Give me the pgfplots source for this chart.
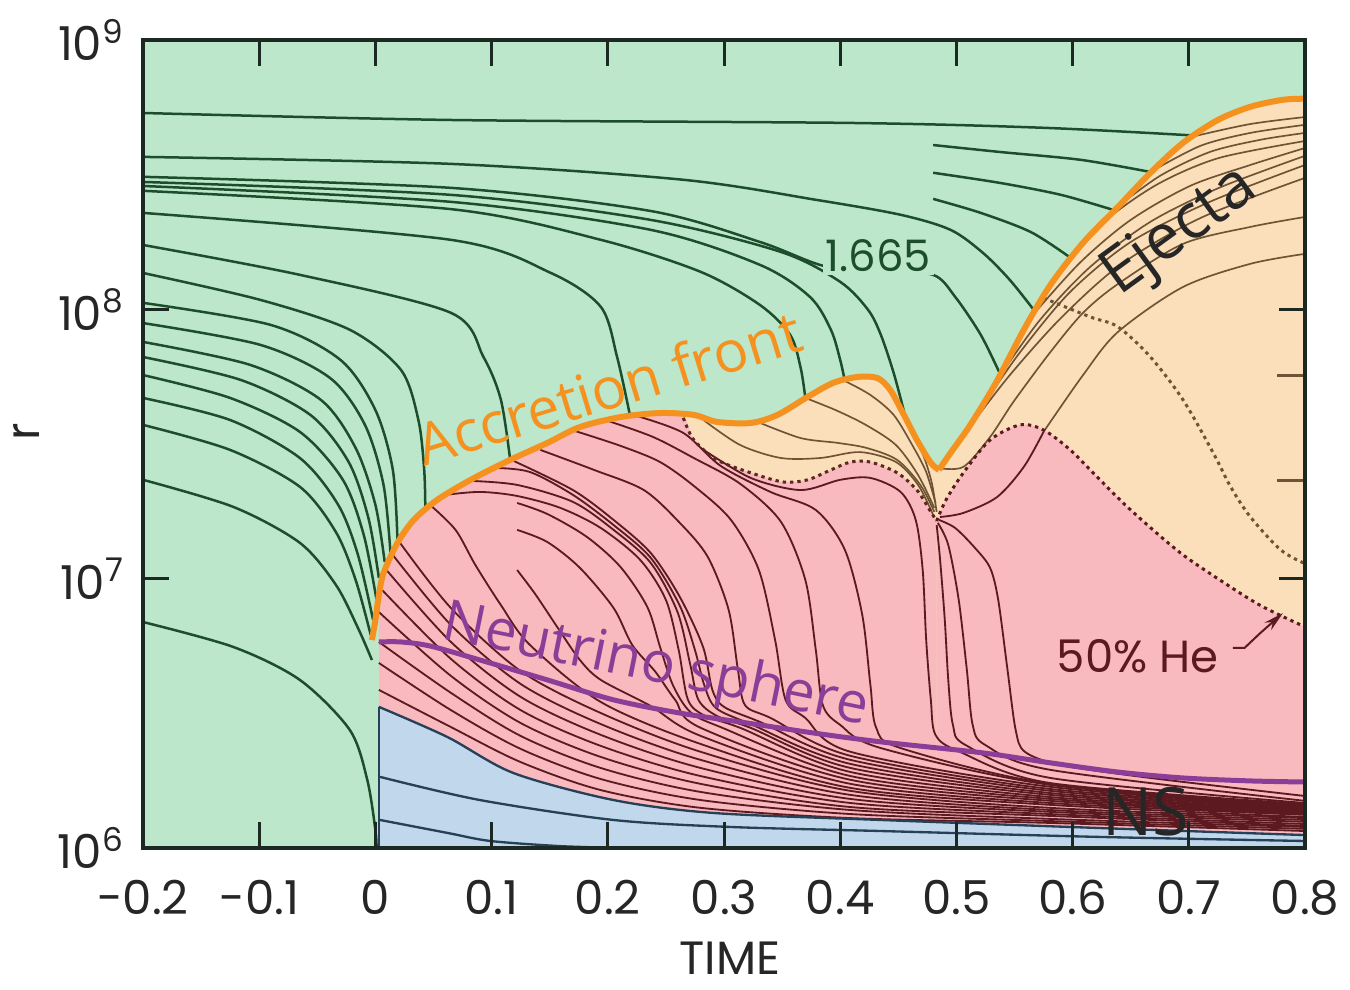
\documentclass[border=0pt]{standalone}
\usepackage{fontspec}
\usepackage{pgfplots}
\pgfplotsset{compat=1.18}
\usetikzlibrary{arrows.meta}
\newfontfamily\labfont{Open Sans}
\newfontfamily\tickfont{Poppins}

\definecolor{bggreen}{RGB}{188,231,203}
\definecolor{pinkfill}{RGB}{248,186,190}
\definecolor{peachfill}{RGB}{251,222,186}
\definecolor{bluefill}{RGB}{193,216,236}
\definecolor{greenline}{RGB}{28,78,44}
\definecolor{redline}{RGB}{92,26,32}
\definecolor{brownline}{RGB}{110,84,52}
\definecolor{navyline}{RGB}{38,64,88}
\definecolor{frontcol}{RGB}{245,145,30}
\definecolor{nusphere}{RGB}{138,62,152}
\definecolor{framecol}{RGB}{28,40,34}

% shell trajectories: y is log10 of the radius
\pgfplotsset{
  gl/.style={greenline, line width=0.75pt, smooth, no marks},
  rl/.style={redline, line width=0.55pt, smooth, no marks},
  bl/.style={brownline, line width=0.5pt, smooth, no marks},
  nl/.style={navyline, line width=0.7pt, smooth, no marks},
  dl/.style={line width=0.9pt, dash pattern=on 1pt off 1.2pt, smooth, no marks},
}

\begin{document}
\begin{tikzpicture}
\begin{axis}[
  name=ax,
  scale only axis, width=348.6pt, height=242.4pt,
  xmin=-0.2, xmax=0.8, ymin=6, ymax=9,
  axis on top,
  axis background/.style={fill=bggreen},
  xtick={-0.2,-0.1,0,0.1,0.2,0.3,0.4,0.5,0.6,0.7,0.8},
  xticklabels={-0.2,-0.1,0,0.1,0.2,0.3,0.4,0.5,0.6,0.7,0.8},
  ytick={6,7,8,9},
  yticklabels={10\textsuperscript{6},10\textsuperscript{7},10\textsuperscript{8},10\textsuperscript{9}},
  tick align=inside, major tick length=7.8pt,
  tick style={framecol, line width=0.9pt},
  axis line style={framecol, line width=1.2pt},
  ticklabel style={font=\tickfont\fontsize{14}{14}\selectfont, text=black!85},
  xticklabel style={anchor=base, yshift=-20pt},
  yticklabel style={anchor=east, xshift=-2pt},
  xlabel={TIME}, ylabel={r},
  every axis x label/.style={at={(axis description cs:0.505,-0.137)}, anchor=center,
    font=\tickfont\fontsize{14}{14}\selectfont, text=black!85},
  every axis y label/.style={at={(axis description cs:-0.1,0.515)}, anchor=center, rotate=90,
    font=\tickfont\fontsize{14}{14}\selectfont, text=black!85},
]

% ---- regions ----
\addplot[draw=none, fill=peachfill, smooth] coordinates {
(0.003,6.939) (0.007,7.021) (0.019,7.133) (0.033,7.218) (0.053,7.292) (0.082,7.367) (0.116,7.441) (0.148,7.504) (0.176,7.563) (0.211,7.600) (0.245,7.615) (0.274,7.608) (0.294,7.582) (0.323,7.578) (0.346,7.608) (0.372,7.675) (0.394,7.727) (0.415,7.749) (0.432,7.745) (0.443,7.701) (0.454,7.615) (0.466,7.515) (0.478,7.430) (0.485,7.404)} \closedcycle;
\addplot[draw=none, fill=peachfill, smooth] coordinates {
(0.485,7.404) (0.495,7.467) (0.512,7.571) (0.534,7.727) (0.558,7.924) (0.581,8.091) (0.609,8.247) (0.639,8.380) (0.667,8.507) (0.695,8.618) (0.725,8.703) (0.753,8.752) (0.781,8.778) (0.800,8.782)} \closedcycle;

\addplot[draw=none, fill=pinkfill, smooth] coordinates {
(0.003,6.939) (0.007,7.021) (0.019,7.133) (0.033,7.218) (0.053,7.292) (0.082,7.367) (0.116,7.441) (0.148,7.504) (0.176,7.563) (0.211,7.600) (0.245,7.615) (0.265,7.605) (0.274,7.515) (0.294,7.441) (0.323,7.393) (0.351,7.359) (0.372,7.367) (0.392,7.404) (0.409,7.433) (0.426,7.433) (0.449,7.393) (0.466,7.329) (0.478,7.248) (0.483,7.214)} \closedcycle;
\addplot[draw=none, fill=pinkfill, smooth] coordinates {
(0.483,7.214) (0.491,7.292) (0.506,7.393) (0.529,7.515) (0.555,7.571) (0.575,7.552) (0.598,7.478) (0.621,7.378) (0.650,7.255) (0.693,7.095) (0.736,6.969) (0.764,6.895) (0.800,6.821)} \closedcycle;

\addplot[draw=none, fill=bluefill, smooth] coordinates {
(0.003,6.524) (0.062,6.412) (0.119,6.278) (0.205,6.178) (0.291,6.130) (0.435,6.104) (0.624,6.074) (0.800,6.048)} \closedcycle;

% ---- infalling shells (green) ----
\addplot[gl] coordinates {(-0.200,8.729) (0.065,8.703) (0.409,8.692) (0.575,8.674) (0.706,8.645)};
\addplot[gl] coordinates {(0.480,8.610) (0.538,8.584) (0.607,8.555) (0.667,8.510)};
\addplot[gl] coordinates {(0.480,8.507) (0.538,8.469) (0.590,8.425) (0.635,8.369)};
\addplot[gl] coordinates {(0.480,8.410) (0.521,8.358) (0.564,8.287) (0.597,8.195)};
\addplot[gl] coordinates {(-0.200,8.566) (0.065,8.540) (0.265,8.481) (0.380,8.406) (0.452,8.351) (0.495,8.295) (0.523,8.209) (0.546,8.109) (0.568,7.990)};
\addplot[gl] coordinates {(-0.200,8.492) (0.065,8.451) (0.237,8.365) (0.331,8.250) (0.386,8.161) (0.435,8.143) (0.480,8.128) (0.499,8.046) (0.521,7.905) (0.538,7.756)};
\addplot[gl] coordinates {(-0.200,8.473) (0.065,8.425) (0.237,8.332) (0.349,8.213) (0.400,8.102) (0.424,7.998) (0.435,7.905) (0.446,7.764) (0.455,7.619)};
\addplot[gl] coordinates {(-0.200,8.458) (0.065,8.399) (0.237,8.295) (0.331,8.165) (0.374,8.046) (0.392,7.924) (0.400,7.812) (0.404,7.734)};
\addplot[gl] coordinates {(-0.200,8.440) (0.065,8.372) (0.194,8.258) (0.280,8.139) (0.331,8.016) (0.357,7.905) (0.366,7.782) (0.370,7.671)};
\addplot[gl] coordinates {(-0.200,8.358) (0.065,8.258) (0.151,8.135) (0.194,8.009) (0.208,7.823) (0.219,7.608)};
\addplot[gl] coordinates {(-0.200,8.239) (-0.065,8.128) (0.065,7.987) (0.093,7.823) (0.108,7.664) (0.116,7.441)};
\addplot[gl] coordinates {(-0.200,8.135) (-0.099,8.035) (-0.022,7.924) (0.022,7.775) (0.037,7.589) (0.042,7.404) (0.043,7.248)};
\addplot[gl] coordinates {(-0.200,8.024) (-0.090,7.942) (-0.030,7.812) (0.000,7.626) (0.015,7.404) (0.019,7.144)};
\addplot[gl] coordinates {(-0.200,7.949) (-0.099,7.868) (-0.039,7.745) (-0.009,7.571) (0.007,7.348) (0.013,7.095)};
\addplot[gl] coordinates {(-0.200,7.879) (-0.108,7.794) (-0.047,7.664) (-0.017,7.485) (0.000,7.274) (0.008,7.062)};
\addplot[gl] coordinates {(-0.200,7.823) (-0.116,7.738) (-0.056,7.608) (-0.023,7.433) (-0.006,7.225) (0.003,7.003)};
\addplot[gl] coordinates {(-0.200,7.756) (-0.125,7.671) (-0.065,7.545) (-0.028,7.367) (-0.010,7.162) (0.001,6.921)};
\addplot[gl] coordinates {(-0.200,7.671) (-0.125,7.589) (-0.065,7.448) (-0.032,7.274) (-0.015,7.088) (-0.002,6.847)};
\addplot[gl] coordinates {(-0.200,7.571) (-0.125,7.478) (-0.065,7.341) (-0.034,7.173) (-0.017,6.995) (-0.004,6.791)};
\addplot[gl] coordinates {(-0.200,7.367) (-0.122,7.266) (-0.065,7.133) (-0.034,6.977) (-0.015,6.817) (-0.003,6.698)};
\addplot[gl] coordinates {(-0.200,6.839) (-0.122,6.746) (-0.065,6.624) (-0.022,6.438) (-0.007,6.253) (0.000,6.067) (0.001,6.000)};

% ---- ejecta and accreted shells (brown) ----
\addplot[bl] coordinates {(0.706,8.644) (0.753,8.688) (0.800,8.714)};
\addplot[bl] coordinates {(0.667,8.510) (0.710,8.607) (0.753,8.655) (0.800,8.685)};
\addplot[bl] coordinates {(0.635,8.369) (0.675,8.495) (0.718,8.584) (0.761,8.629) (0.800,8.655)};
\addplot[bl] coordinates {(0.597,8.195) (0.632,8.343) (0.675,8.469) (0.726,8.562) (0.800,8.625)};
\addplot[bl] coordinates {(0.568,7.990) (0.607,8.176) (0.650,8.332) (0.701,8.458) (0.753,8.536) (0.800,8.599)};
\addplot[bl] coordinates {(0.538,7.756) (0.572,7.961) (0.615,8.157) (0.667,8.325) (0.726,8.451) (0.800,8.570)};
\addplot[bl] coordinates {(0.525,7.656) (0.555,7.842) (0.598,8.065) (0.650,8.250) (0.718,8.399) (0.800,8.536)};
\addplot[bl] coordinates {(0.516,7.589) (0.546,7.756) (0.590,7.968) (0.641,8.165) (0.710,8.339) (0.800,8.488)};
\addplot[bl] coordinates {(0.484,7.411) (0.506,7.415) (0.529,7.526) (0.549,7.656) (0.581,7.842) (0.609,7.987) (0.639,8.094) (0.695,8.243) (0.753,8.306) (0.800,8.343)};
\addplot[bl] coordinates {(0.575,7.545) (0.609,7.756) (0.639,7.916) (0.695,8.083) (0.753,8.169) (0.800,8.206)};
\addplot[bl] coordinates {(0.282,7.590) (0.314,7.496) (0.349,7.448) (0.383,7.448) (0.417,7.470) (0.448,7.433) (0.467,7.348) (0.480,7.237)};
\addplot[bl] coordinates {(0.329,7.582) (0.366,7.522) (0.398,7.504) (0.423,7.485) (0.449,7.441) (0.469,7.348) (0.481,7.248)};
\addplot[bl] coordinates {(0.370,7.671) (0.396,7.626) (0.422,7.571) (0.448,7.496) (0.467,7.385) (0.481,7.263)};
\addplot[bl] coordinates {(0.404,7.734) (0.426,7.682) (0.446,7.608) (0.462,7.496) (0.474,7.396) (0.482,7.281)};
\addplot[bl] coordinates {(0.455,7.619) (0.465,7.522) (0.473,7.441) (0.479,7.352) (0.483,7.248)};

% ---- shells behind the accretion front (dark red) ----
\addplot[rl] coordinates {(0.003,6.587) (0.065,6.449) (0.125,6.319) (0.194,6.215) (0.280,6.149) (0.409,6.111) (0.581,6.093) (0.800,6.063)};
\addplot[rl] coordinates {(0.003,6.687) (0.065,6.512) (0.125,6.368) (0.194,6.256) (0.280,6.178) (0.409,6.126) (0.581,6.100) (0.800,6.071)};
\addplot[rl] coordinates {(0.003,6.765) (0.065,6.576) (0.125,6.416) (0.194,6.297) (0.280,6.208) (0.409,6.141) (0.581,6.108) (0.800,6.078)};
\addplot[rl] coordinates {(0.003,6.876) (0.065,6.639) (0.125,6.464) (0.194,6.338) (0.280,6.238) (0.409,6.152) (0.581,6.119) (0.800,6.082)};
\addplot[rl] coordinates {(0.004,6.966) (0.065,6.702) (0.125,6.512) (0.194,6.379) (0.280,6.267) (0.409,6.167) (0.581,6.126) (0.800,6.089)};
\addplot[rl] coordinates {(0.008,7.040) (0.065,6.765) (0.125,6.561) (0.194,6.420) (0.280,6.297) (0.409,6.182) (0.581,6.134) (0.800,6.097)};
\addplot[rl] coordinates {(0.013,7.099) (0.065,6.828) (0.125,6.609) (0.194,6.460) (0.280,6.327) (0.409,6.197) (0.581,6.141) (0.800,6.104)};
\addplot[rl] coordinates {(0.020,7.140) (0.065,6.891) (0.125,6.657) (0.194,6.501) (0.280,6.357) (0.409,6.212) (0.581,6.149) (0.800,6.111)};
\addplot[rl] coordinates {(0.047,7.274) (0.069,7.181) (0.086,7.051) (0.108,6.902) (0.133,6.754) (0.194,6.542) (0.280,6.386) (0.409,6.223) (0.581,6.160) (0.800,6.115)};
\addplot[rl] coordinates {(0.122,7.032) (0.138,6.940) (0.157,6.817) (0.176,6.698) (0.194,6.624) (0.237,6.527) (0.280,6.416) (0.409,6.238) (0.581,6.167) (0.800,6.123)};
\addplot[rl] coordinates {(0.122,7.181) (0.148,7.136) (0.176,7.040) (0.205,6.891) (0.221,6.754) (0.241,6.654) (0.258,6.550) (0.280,6.446) (0.409,6.253) (0.581,6.175) (0.800,6.126)};
\addplot[rl] coordinates {(0.122,7.281) (0.148,7.240) (0.182,7.155) (0.211,7.043) (0.234,6.895) (0.245,6.746) (0.256,6.605) (0.271,6.505) (0.297,6.449) (0.409,6.267) (0.581,6.182) (0.800,6.130)};
\addplot[rl] coordinates {(0.060,7.311) (0.090,7.322) (0.122,7.307) (0.159,7.263) (0.194,7.188) (0.228,7.069) (0.250,6.921) (0.261,6.735) (0.269,6.550) (0.284,6.490) (0.314,6.446) (0.409,6.282) (0.581,6.189) (0.800,6.134)};
\addplot[rl] coordinates {(0.082,7.363) (0.122,7.348) (0.170,7.285) (0.205,7.181) (0.237,7.058) (0.260,6.876) (0.271,6.680) (0.278,6.550) (0.294,6.490) (0.323,6.446) (0.409,6.297) (0.581,6.197) (0.800,6.137)};
\addplot[rl] coordinates {(0.103,7.411) (0.133,7.396) (0.170,7.311) (0.205,7.199) (0.237,7.077) (0.262,6.899) (0.275,6.735) (0.283,6.605) (0.293,6.520) (0.323,6.460) (0.409,6.312) (0.581,6.204) (0.800,6.141)};
\addplot[rl] coordinates {(0.119,7.437) (0.170,7.329) (0.205,7.218) (0.237,7.095) (0.262,6.932) (0.282,6.746) (0.290,6.587) (0.300,6.524) (0.331,6.468) (0.409,6.327) (0.581,6.212) (0.800,6.145)};
\addplot[rl] coordinates {(0.142,7.478) (0.188,7.404) (0.231,7.329) (0.262,7.207) (0.286,7.081) (0.304,6.884) (0.312,6.661) (0.318,6.531) (0.340,6.483) (0.409,6.342) (0.581,6.219) (0.800,6.149)};
\addplot[rl] coordinates {(0.172,7.548) (0.211,7.493) (0.245,7.433) (0.275,7.341) (0.306,7.218) (0.330,7.032) (0.344,6.772) (0.353,6.550) (0.370,6.483) (0.409,6.357) (0.581,6.227) (0.800,6.152)};
\addplot[rl] coordinates {(0.200,7.586) (0.239,7.526) (0.274,7.448) (0.314,7.352) (0.349,7.211) (0.370,6.995) (0.379,6.735) (0.385,6.531) (0.400,6.457) (0.435,6.371) (0.581,6.234) (0.800,6.156)};
\addplot[rl] coordinates {(0.225,7.604) (0.265,7.541) (0.297,7.419) (0.340,7.322) (0.379,7.255) (0.404,7.107) (0.419,6.865) (0.426,6.605) (0.431,6.446) (0.452,6.371) (0.581,6.238) (0.800,6.160)};
\addplot[rl] coordinates {(0.280,7.485) (0.323,7.374) (0.366,7.329) (0.400,7.367) (0.426,7.374) (0.452,7.322) (0.465,7.218) (0.471,7.032) (0.474,6.772) (0.478,6.550) (0.482,6.420) (0.503,6.357) (0.581,6.241) (0.800,6.163)};
\addplot[rl] coordinates {(0.483,7.199) (0.486,7.069) (0.490,6.847) (0.493,6.624) (0.497,6.457) (0.508,6.382) (0.581,6.260) (0.800,6.167)};
\addplot[rl] coordinates {(0.484,7.207) (0.493,7.125) (0.502,6.921) (0.509,6.661) (0.514,6.457) (0.525,6.382) (0.581,6.290) (0.800,6.175)};
\addplot[rl] coordinates {(0.485,7.218) (0.499,7.188) (0.516,7.114) (0.529,7.040) (0.536,6.921) (0.544,6.661) (0.551,6.438) (0.559,6.357) (0.590,6.308) (0.667,6.260) (0.800,6.193)};
\addplot[rl] coordinates {(0.486,7.229) (0.506,7.244) (0.535,7.303) (0.558,7.415) (0.575,7.545)};

% ---- neutron star core (navy) ----
\addplot[nl] coordinates {(0.003,6.524) (0.062,6.412) (0.119,6.278) (0.205,6.178) (0.291,6.130) (0.435,6.104) (0.624,6.074) (0.800,6.048)};
\addplot[nl] coordinates {(0.003,6.000) (0.003,6.524)};
\addplot[nl] coordinates {(0.004,6.264) (0.090,6.178) (0.205,6.104) (0.306,6.078) (0.435,6.063) (0.624,6.041) (0.800,6.026)};
\addplot[nl] coordinates {(0.004,6.104) (0.062,6.056) (0.099,6.026) (0.159,6.007) (0.211,6.000)};

% ---- 50% He contours (dotted) ----
\addplot[dl, color=redline!80!brownline] coordinates {(0.265,7.597) (0.274,7.515) (0.294,7.441) (0.323,7.393) (0.351,7.359) (0.372,7.367) (0.392,7.404) (0.409,7.433) (0.426,7.433) (0.449,7.393) (0.466,7.329) (0.478,7.248) (0.483,7.214)};
\addplot[dl, color=redline] coordinates {(0.483,7.214) (0.491,7.292) (0.506,7.393) (0.529,7.515) (0.555,7.571) (0.575,7.552) (0.598,7.478) (0.621,7.378) (0.650,7.255) (0.693,7.095) (0.736,6.969) (0.764,6.895) (0.800,6.821)};
\addplot[dl, color=brownline] coordinates {(0.575,8.042) (0.615,7.972) (0.639,7.935) (0.667,7.823) (0.695,7.664) (0.721,7.467) (0.736,7.341) (0.753,7.229) (0.779,7.107) (0.799,7.058)};

% short marks on the right edge
\addplot[brownline, line width=0.9pt] coordinates {(0.776,7.756) (0.800,7.756)};
\addplot[brownline, line width=0.9pt] coordinates {(0.776,7.363) (0.800,7.363)};

% ---- accretion front and neutrino sphere ----
\addplot[frontcol, line width=1.8pt, smooth] coordinates {
(-0.003,6.772) (0.000,6.847) (0.003,6.939) (0.007,7.021) (0.019,7.133) (0.033,7.218) (0.053,7.292) (0.082,7.367) (0.116,7.441) (0.148,7.504) (0.176,7.563) (0.211,7.600) (0.245,7.615) (0.274,7.608) (0.294,7.582) (0.323,7.578) (0.346,7.608) (0.372,7.675) (0.394,7.727) (0.415,7.749) (0.432,7.745) (0.443,7.701) (0.454,7.615) (0.466,7.515) (0.478,7.430) (0.485,7.404)};
\addplot[frontcol, line width=1.8pt, smooth] coordinates {
(0.485,7.404) (0.495,7.467) (0.512,7.571) (0.534,7.727) (0.558,7.924) (0.581,8.091) (0.609,8.247) (0.639,8.380) (0.667,8.507) (0.695,8.618) (0.725,8.703) (0.753,8.752) (0.781,8.778) (0.800,8.782)};
\addplot[nusphere, line width=1.5pt, smooth] coordinates {
(0.003,6.765) (0.022,6.765) (0.047,6.750) (0.090,6.698) (0.148,6.624) (0.205,6.550) (0.262,6.501) (0.320,6.464) (0.377,6.427) (0.435,6.394) (0.523,6.353) (0.581,6.316) (0.639,6.282) (0.695,6.260) (0.753,6.249) (0.800,6.245)};

% ---- annotations ----
\node[font=\labfont\fontsize{17.3}{17.3}\selectfont, text=frontcol, rotate=17] at (axis cs:0.201,7.71) {Accretion front};
\node[font=\labfont\fontsize{17}{17}\selectfont, text=nusphere, rotate=-11.5] at (axis cs:0.241,6.672) {Neutrino sphere};
\node[font=\labfont\fontsize{19}{19}\selectfont, text=black!85, rotate=36] at (axis cs:0.693,8.284) {Ejecta};
\node[font=\labfont\fontsize{20}{20}\selectfont, text=black!85] at (axis cs:0.663,6.134) {NS};
\node[font=\tickfont\fontsize{13}{13}\selectfont, text=greenline, fill=bggreen, inner sep=1pt] at (axis cs:0.433,8.198) {1.665};
\node[font=\tickfont\fontsize{13.5}{13.5}\selectfont, text=redline] at (axis cs:0.656,6.713) {50\% He};
\draw[redline, line width=0.6pt, -{Stealth[length=6pt,width=3pt]}] (axis cs:0.738,6.743) -- (axis cs:0.748,6.743) -- (axis cs:0.762,6.800) -- (axis cs:0.781,6.872);
\end{axis}
\pgfresetboundingbox
\path[use as bounding box] ([shift={(-42.9pt,-42.6pt)}]ax.south west) rectangle ([shift={(13.5pt,12pt)}]ax.north east);
\end{tikzpicture}
\end{document}
